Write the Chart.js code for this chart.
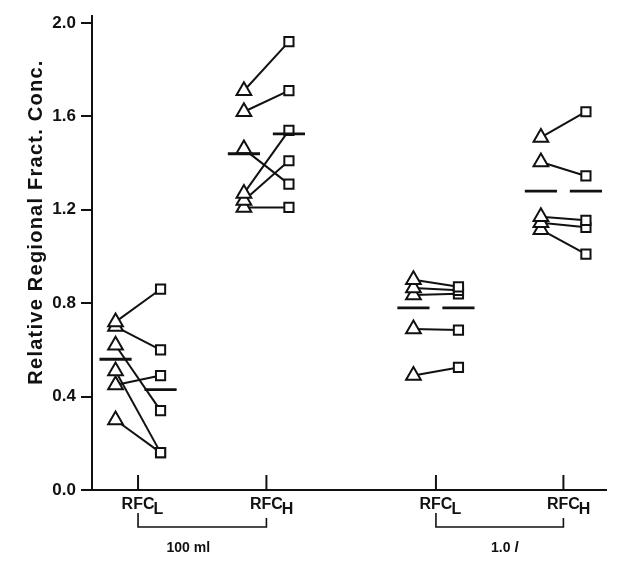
<!DOCTYPE html>
<html>
<head>
<meta charset="utf-8">
<script src="https://cdn.jsdelivr.net/npm/chart.js@4"></script>
<style>
  html, body { margin: 0; padding: 0; background: #fff; }
</style>
</head>
<body>
<canvas id="chart" width="617" height="565"></canvas>
<script>
// x categories (subscript of RFC) and the two volume groups under them
const categories = ['L', 'H', 'L', 'H'];
const volumes = ['100 ml', '1.0 l'];
const yTicks = [0.0, 0.4, 0.8, 1.2, 1.6, 2.0];

// triangle value -> square value, one pair per subject
const tri100L = [0.72, 0.70, 0.62, 0.51, 0.45, 0.30];
const sq100L  = [0.86, 0.60, 0.34, 0.16, 0.49, 0.16];
const tri100H = [1.71, 1.62, 1.46, 1.27, 1.24, 1.21];
const sq100H  = [1.92, 1.71, 1.31, 1.54, 1.41, 1.21];
const tri1lL  = [0.90, 0.865, 0.835, 0.69, 0.49];
const sq1lL   = [0.87, 0.855, 0.84, 0.685, 0.525];
const tri1lH  = [1.51, 1.405, 1.17, 1.145, 1.115];
const sq1lH   = [1.62, 1.345, 1.155, 1.125, 1.01];

// group means (the short dashes)
const meanTri = [0.56, 1.44, 0.78, 1.28];
const meanSq  = [0.43, 1.525, 0.78, 1.28];

const series = [[tri100L, sq100L], [tri100H, sq100H], [tri1lL, sq1lL], [tri1lH, sq1lH]];

// where each category sits on the x scale
const catX = [0.358, 1.356, 2.674, 3.665];
const PAIR_OFF = 0.175;
const DASH_HALF = 0.125;

const INK = '#111';
const FONT = '"Liberation Sans", Arial, Helvetica, sans-serif';

const datasets = [];
series.forEach(([tri, sq], c) => {
    tri.forEach((v, i) => {
        datasets.push({
            data: [{ x: catX[c] - PAIR_OFF, y: v }, { x: catX[c] + PAIR_OFF, y: sq[i] }],
            borderColor: INK,
            borderWidth: 2,
            pointStyle: ['triangle', 'rect'],
            pointRadius: [8.5, 6.5],
            pointBorderWidth: 2,
            pointBorderColor: INK,
            pointBackgroundColor: '#fff',
            order: 1
        });
    });
});
[meanTri, meanSq].forEach((means, side) => {
    const off = side === 0 ? -PAIR_OFF : PAIR_OFF;
    means.forEach((m, c) => {
        datasets.push({
            data: [{ x: catX[c] + off - DASH_HALF, y: m }, { x: catX[c] + off + DASH_HALF, y: m }],
            borderColor: INK,
            borderWidth: 2.8,
            pointRadius: 0,
            order: 0
        });
    });
});

const annotations = {
    id: 'annotations',
    afterDraw(chart) {
        const { ctx, chartArea, scales: { x } } = chart;
        ctx.save();
        ctx.strokeStyle = INK;
        ctx.fillStyle = INK;
        ctx.lineWidth = 2;

        // y axis runs a bit past the top tick
        ctx.beginPath();
        ctx.moveTo(chartArea.left, chartArea.top);
        ctx.lineTo(chartArea.left, chartArea.top - 8);
        ctx.stroke();

        // inward x ticks and RFC labels
        ctx.font = `bold 16px ${FONT}`;
        const w = ctx.measureText('RFC').width;
        ctx.textBaseline = 'alphabetic';
        ctx.textAlign = 'left';
        catX.forEach((cx, i) => {
            const px = x.getPixelForValue(cx);
            ctx.beginPath();
            ctx.moveTo(px, chartArea.bottom);
            ctx.lineTo(px, chartArea.bottom - 15);
            ctx.stroke();
            ctx.fillText('RFC', px - w / 2, 509);
            ctx.fillText(categories[i], px + w / 2 - 1, 514);
        });

        // brackets under each volume group
        ctx.lineWidth = 1.6;
        const labelShift = [-14, 5];
        volumes.forEach((vol, g) => {
            const a = x.getPixelForValue(catX[2 * g]);
            const b = x.getPixelForValue(catX[2 * g + 1]);
            ctx.beginPath();
            ctx.moveTo(a, 513);
            ctx.lineTo(a, 527);
            ctx.lineTo(b, 527);
            ctx.lineTo(b, 518);
            ctx.stroke();

            const mid = (a + b) / 2 + labelShift[g];
            const parts = vol.split(' ');
            const head = parts[0] + ' ';
            const tail = parts[1];
            ctx.font = `bold 14px ${FONT}`;
            const hw = ctx.measureText(head).width;
            const tailFont = tail === 'l' ? `italic bold 14px ${FONT}` : `bold 14px ${FONT}`;
            ctx.font = tailFont;
            const tw = ctx.measureText(tail).width;
            const start = mid - (hw + tw) / 2;
            ctx.font = `bold 14px ${FONT}`;
            ctx.fillText(head, start, 552);
            ctx.font = tailFont;
            ctx.fillText(tail, start + hw, 552);
        });

        // y axis title
        const title = 'Relative Regional Fract. Conc.';
        ctx.translate(36, 222);
        ctx.rotate(-Math.PI / 2);
        ctx.font = `bold 20px ${FONT}`;
        const tw = ctx.measureText(title).width;
        if ('letterSpacing' in ctx) {
            ctx.letterSpacing = Math.max(0, (324 - tw) / (title.length - 1)).toFixed(2) + 'px';
        }
        ctx.textAlign = 'center';
        ctx.textBaseline = 'middle';
        ctx.fillText(title, 0, 0);
        ctx.restore();
    }
};

new Chart(document.getElementById('chart'), {
    type: 'line',
    data: { datasets },
    options: {
        responsive: false,
        animation: false,
        devicePixelRatio: 1,
        layout: { padding: { top: 23, left: 0, right: 0, bottom: 0 } },
        plugins: { legend: { display: false }, tooltip: { enabled: false } },
        elements: { line: { tension: 0 } },
        scales: {
            x: {
                type: 'linear',
                min: 0,
                max: 4,
                ticks: { display: false },
                grid: { display: false },
                border: { display: true, color: INK, width: 2 },
                afterFit(scale) { scale.height = 75; }
            },
            y: {
                min: 0,
                max: 2,
                afterBuildTicks(scale) { scale.ticks = yTicks.map(v => ({ value: v })); },
                ticks: {
                    color: INK,
                    padding: 5,
                    font: { family: FONT, size: 17, weight: 'bold' },
                    callback: v => v.toFixed(1)
                },
                grid: { drawOnChartArea: false, tickLength: 11, color: INK, lineWidth: 2 },
                border: { display: true, color: INK, width: 2 },
                afterFit(scale) { scale.width = 92; }
            }
        }
    },
    plugins: [annotations]
});
</script>
</body>
</html>
